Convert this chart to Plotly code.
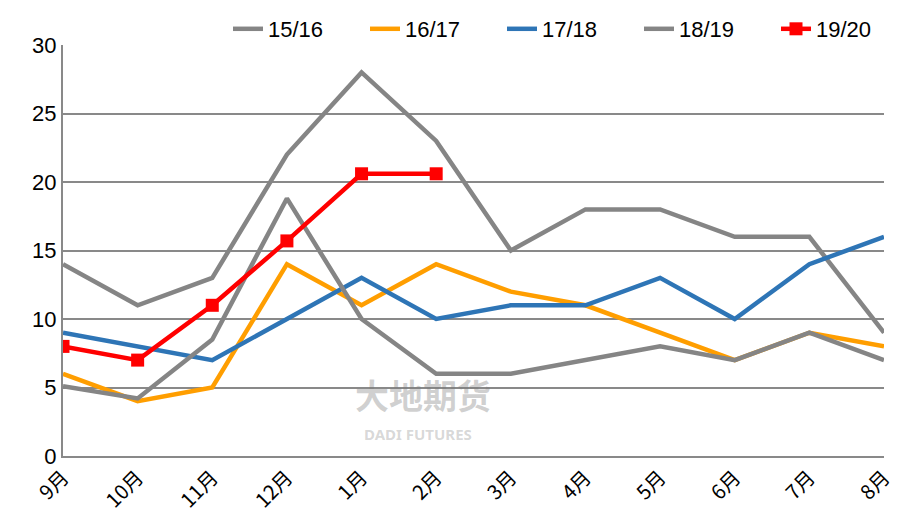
import plotly.graph_objects as go

months = ["9月", "10月", "11月", "12月", "1月", "2月", "3月", "4月", "5月", "6月", "7月", "8月"]
s1516 = [14, 11, 13, 22, 28, 23, 15, 18, 18, 16, 16, 9]
s1617 = [6, 4, 5, 14, 11, 14, 12, 11, 9, 7, 9, 8]
s1718 = [9, 8, 7, 10, 13, 10, 11, 11, 13, 10, 14, 16]
s1819 = [5.1, 4.2, 8.5, 18.8, 10, 6, 6, 7, 8, 7, 9, 7]
s1920 = [8, 7, 11, 15.7, 20.6, 20.6]
y_ticks = [0, 5, 10, 15, 20, 25, 30]

fig = go.Figure()
x = list(range(len(months)))
fig.add_trace(go.Scatter(x=x, y=s1516, name="15/16", mode="lines",
                         line=dict(color="#858585", width=4.5)))
fig.add_trace(go.Scatter(x=x, y=s1617, name="16/17", mode="lines",
                         line=dict(color="#FF9E00", width=4.5)))
fig.add_trace(go.Scatter(x=x, y=s1718, name="17/18", mode="lines",
                         line=dict(color="#2E75B6", width=4.5)))
fig.add_trace(go.Scatter(x=x, y=s1819, name="18/19", mode="lines",
                         line=dict(color="#858585", width=4.5)))
fig.add_trace(go.Scatter(x=x[:len(s1920)], y=s1920, name="19/20", mode="lines+markers",
                         line=dict(color="#FF0000", width=4.5),
                         marker=dict(symbol="square", size=13, color="#FF0000")))

fig.add_annotation(x=4.83, y=4.5, xref="x", yref="y", text="<b>大地期货</b>", showarrow=False,
                   font=dict(size=34, color="rgba(120,120,120,0.35)", family="Noto Sans CJK SC"))
fig.add_annotation(x=4.76, y=1.6, xref="x", yref="y", text="<b>DADI FUTURES</b>", showarrow=False,
                   font=dict(size=15, color="rgba(120,120,120,0.3)", family="Noto Sans"))

fig.update_layout(
    width=905, height=519,
    margin=dict(l=55, r=29, t=37, b=71, autoexpand=False),
    plot_bgcolor="white", paper_bgcolor="white",
    font=dict(family="Liberation Sans Narrow, Liberation Sans, sans-serif", size=20, color="#000000"),
    legend=dict(orientation="h", xref="container", yref="container",
                x=1.0, xanchor="right", y=1.0, yanchor="top",
                font=dict(size=22), entrywidth=92, tracegroupgap=0,
                bgcolor="rgba(0,0,0,0)"),
    showlegend=True,
)
fig.update_xaxes(tickmode="array", tickvals=x, ticktext=months, range=[0, 11],
                 tickangle=-45, showgrid=False, showline=True, linecolor="#898989",
                 linewidth=2, ticks="", tickfont=dict(size=20, family="Noto Sans CJK SC"),
                 zeroline=False, automargin=False)
fig.update_yaxes(range=[0, 30], tickvals=y_ticks, showgrid=True, gridcolor="#898989",
                 gridwidth=2, showline=True, linecolor="#898989", linewidth=2,
                 ticks="", zeroline=False, tickfont=dict(size=22), automargin=False)

fig.write_html("out.html")
